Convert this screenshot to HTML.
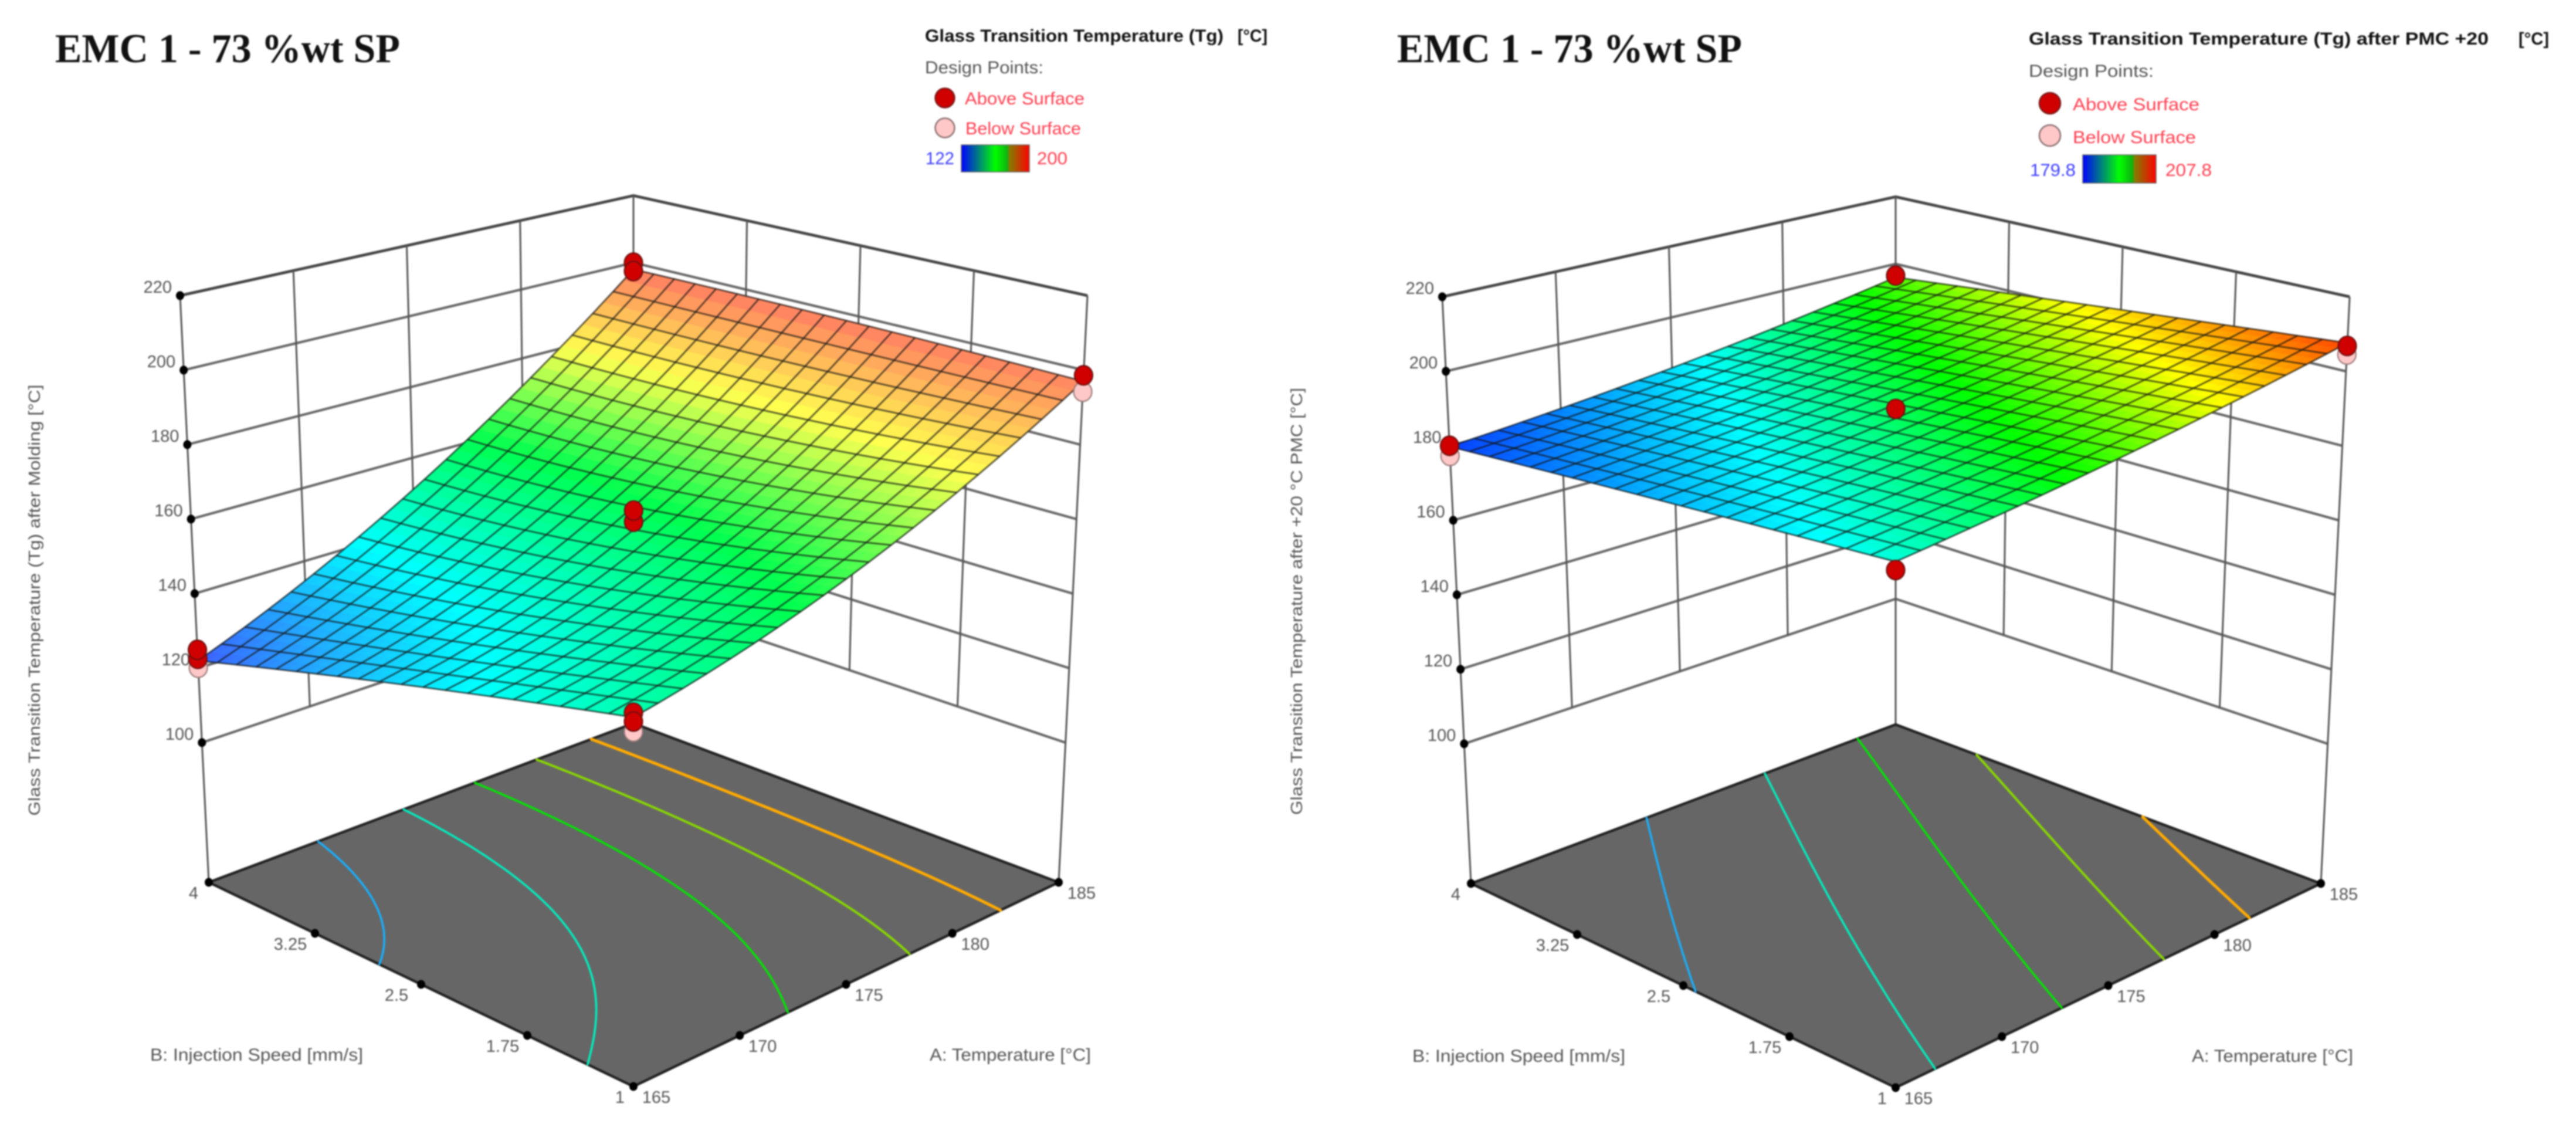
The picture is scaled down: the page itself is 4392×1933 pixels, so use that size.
<!DOCTYPE html>
<html lang="en">
<head>
<meta charset="utf-8">
<title>EMC 1 - 73 %wt SP response surfaces</title>
<style>
html,body{margin:0;padding:0;background:#fff;}
#figure{display:block;width:4392px;height:1933px;filter:blur(1.4px);}
text{font-family:"Liberation Sans",sans-serif;}
.head{font-family:"Liberation Serif",serif;font-weight:bold;font-size:70px;fill:#111;}
.lt{font-size:30px;font-weight:bold;fill:#111;}
.ld{font-size:30px;fill:#555;}
.lr{font-size:30px;fill:#ff3f50;}
.lb{font-size:30px;fill:#3f3fff;}
</style>
</head>
<body>
<svg id="figure" xmlns="http://www.w3.org/2000/svg" width="4392" height="1933" viewBox="0 0 4392 1933">
<defs>
<linearGradient id="scaleGrad" x1="0" x2="1" y1="0" y2="0">
<stop offset="0" stop-color="#0000ff"/><stop offset="0.5" stop-color="#00ff00"/><stop offset="0.68" stop-color="#10b010"/><stop offset="0.7" stop-color="#808000"/><stop offset="1" stop-color="#ff0000"/>
</linearGradient>
</defs>
<rect width="4392" height="1933" fill="#fff"/>

<text class="head" x="94" y="106" textLength="588" lengthAdjust="spacingAndGlyphs">EMC 1 - 73 %wt SP</text>
<g>
<text class="lt" x="1577" y="71" textLength="509" lengthAdjust="spacingAndGlyphs">Glass Transition Temperature (Tg)</text>
<text class="lt" x="2110" y="71" textLength="51" lengthAdjust="spacingAndGlyphs">[°C]</text>
<text class="ld" x="1577" y="125" textLength="202" lengthAdjust="spacingAndGlyphs">Design Points:</text>
<circle cx="1611" cy="167" r="16.5" fill="#d00000" stroke="#7a1a1a" stroke-width="2.5"/>
<text class="lr" x="1645" y="178" textLength="204" lengthAdjust="spacingAndGlyphs">Above Surface</text>
<circle cx="1611" cy="218" r="16.5" fill="#ffc8c8" stroke="#8a7070" stroke-width="2.5"/>
<text class="lr" x="1646" y="229" textLength="197" lengthAdjust="spacingAndGlyphs">Below Surface</text>
<text class="lb" x="1578" y="280" textLength="49" lengthAdjust="spacingAndGlyphs">122</text>
<rect x="1639" y="247" width="116" height="46" fill="url(#scaleGrad)" stroke="#666" stroke-width="1.5"/>
<text class="lr" x="1768" y="280" textLength="52" lengthAdjust="spacingAndGlyphs">200</text>
</g>

<text class="head" x="2382" y="106" textLength="588" lengthAdjust="spacingAndGlyphs">EMC 1 - 73 %wt SP</text>
<g>
<text class="lt" x="3459" y="76" textLength="784" lengthAdjust="spacingAndGlyphs">Glass Transition Temperature (Tg) after PMC +20</text>
<text class="lt" x="4294" y="76" textLength="52" lengthAdjust="spacingAndGlyphs">[°C]</text>
<text class="ld" x="3459" y="131" textLength="213" lengthAdjust="spacingAndGlyphs">Design Points:</text>
<circle cx="3495" cy="176" r="18" fill="#d00000" stroke="#7a1a1a" stroke-width="2.5"/>
<text class="lr" x="3534" y="188" textLength="216" lengthAdjust="spacingAndGlyphs">Above Surface</text>
<circle cx="3495" cy="231" r="18" fill="#ffc8c8" stroke="#8a7070" stroke-width="2.5"/>
<text class="lr" x="3534" y="244" textLength="210" lengthAdjust="spacingAndGlyphs">Below Surface</text>
<text class="lb" x="3461" y="300" textLength="78" lengthAdjust="spacingAndGlyphs">179.8</text>
<rect x="3551" y="264" width="125" height="48" fill="url(#scaleGrad)" stroke="#666" stroke-width="1.5"/>
<text class="lr" x="3692" y="300" textLength="79" lengthAdjust="spacingAndGlyphs">207.8</text>
</g>

<g id="panelLeft"></g>
<g id="panelRight" transform="translate(2152,2)"></g>
</svg>

<script>
// ---- axis data ----
const tempTicks = [165, 170, 175, 180, 185];
const tempTickLabels = ['165', '170', '175', '180', '185'];
const speedTicks = [1, 1.75, 2.5, 3.25, 4];
const speedTickLabels = ['1', '1.75', '2.5', '3.25', '4'];
const tgTicks = [100, 120, 140, 160, 180, 200, 220];
const tgTickLabels = ['100', '120', '140', '160', '180', '200', '220'];

// ---- surface values read at T = 165/175/185 (columns), speed = 1/2.5/4 (rows) ----
const moldingSpeed1 = [150.5, 168, 197];
const moldingSpeed25 = [137, 157.5, 198];
const moldingSpeed4 = [122, 153, 198];
const pmcSpeed1 = [187.9, 196.4, 207.6];
const pmcSpeed25 = [184, 191.5, 201.9];
const pmcSpeed4 = [179.8, 186.2, 196];

// ---- contour levels ----
const moldingContours = [135, 148, 161, 174, 187];
const pmcContours = [184.47, 189.13, 193.8, 198.47, 203.13];

// ---- design points ----
const moldingPointTemp = [185, 185, 185, 185, 175, 175, 165, 165, 165, 165, 165, 165];
const moldingPointSpeed = [4, 4, 1, 1, 2.5, 2.5, 4, 4, 4, 1, 1, 1];
const moldingPointTg = [200, 197.5, 194.2, 198.6, 159.6, 162.6, 120.1, 122.5, 124.9, 147.1, 151.6, 149.5];
const moldingPointAbove = [1, 1, 0, 1, 1, 1, 0, 1, 1, 0, 1, 1];
const pmcPointTemp = [185, 185, 185, 175, 165, 165, 165];
const pmcPointSpeed = [4, 1, 1, 2.5, 4, 4, 1];
const pmcPointTg = [196.5, 204.5, 206.8, 190.2, 177.3, 180, 185.9];
const pmcPointAbove = [1, 0, 1, 1, 0, 1, 1];

const SVGNS = 'http://www.w3.org/2000/svg';
const GRID = 20;
const FLOOR_Z = 62.5;

// ---- axis functions ----
function aOf(t) { return (t - 165) / 20; }
function bOf(v) { return (v - 1) / 3; }
function floorPt(a, b) {
  const w00 = (1 - a) * (1 - b), w10 = a * (1 - b) * 1.126, w01 = (1 - a) * b * 1.126, w11 = a * b * 1.252;
  const sum = w00 + w10 + w01 + w11;
  return [(w00 * 1080 + w10 * 1805 + w01 * 356 + w11 * 1080) / sum,
          (w00 * 1852 + w10 * 1504 + w01 * 1504 + w11 * 1233) / sum];
}
function project(a, b, z) {
  const f = floorPt(a, b);
  const s = 7.15 / (1 + 0.126 * (a + b));
  return [1080 + (f[0] - 1080) * (1 + (z - FLOOR_Z) * 0.00043), f[1] - (z - FLOOR_Z) * s];
}
function lerpPt(p, q, t) { return [p[0] + (q[0] - p[0]) * t, p[1] + (q[1] - p[1]) * t]; }
function lag(t) { return [2 * (t - 0.5) * (t - 1), -4 * t * (t - 1), 2 * t * (t - 0.5)]; }
function surfaceValue(rows, a, b) {
  const la = lag(a), lb = lag(b);
  let z = 0;
  for (let j = 0; j < 3; j++) for (let i = 0; i < 3; i++) z += lb[j] * la[i] * rows[j][i];
  return z;
}
function colorOf(stops, t) {
  t = Math.max(0, Math.min(1, t)) * (stops.length - 1);
  const i = Math.min(stops.length - 2, Math.floor(t)), f = t - i;
  const c = [0, 1, 2].map(k => Math.round(stops[i][k] + (stops[i + 1][k] - stops[i][k]) * f));
  return 'rgb(' + c.join(',') + ')';
}
function mk(parent, tag, attrs) {
  const el = document.createElementNS(SVGNS, tag);
  for (const k in attrs) el.setAttribute(k, attrs[k]);
  parent.appendChild(el);
  return el;
}
function ptStr(p) { return p[0].toFixed(1) + ',' + p[1].toFixed(1); }

function drawPanel(root, cfg) {
  // walls
  const walls = mk(root, 'g', {});
  
  
  tgTicks.forEach(function (z) {
    const top = z === 220;
    const pl = project(0, 1, z), pb = project(1, 1, z), pr = project(1, 0, z);
    const line = mk(walls, 'polyline', { points: ptStr(pl) + ' ' + ptStr(pb) + ' ' + ptStr(pr), fill: 'none', stroke: top ? '#444' : '#686868', 'stroke-width': top ? 4.8 : 4.2 });
    
    
  });
  [0.25, 0.5, 0.75].forEach(function (t) {
    const l = mk(walls, 'line', {});
    const a = lerpPt(project(0, 1, 220), project(1, 1, 220), t), b = lerpPt(project(0, 1, 100), project(1, 1, 100), t);
    l.setAttribute('x1', a[0]); l.setAttribute('y1', a[1]); l.setAttribute('x2', b[0]); l.setAttribute('y2', b[1]);
    l.setAttribute('stroke', '#555'); l.setAttribute('stroke-width', 3);
    
    
    const r = mk(walls, 'line', {});
    const c = lerpPt(project(1, 0, 220), project(1, 1, 220), t), d = lerpPt(project(1, 0, 100), project(1, 1, 100), t);
    r.setAttribute('x1', c[0]); r.setAttribute('y1', c[1]); r.setAttribute('x2', d[0]); r.setAttribute('y2', d[1]);
    r.setAttribute('stroke', '#555'); r.setAttribute('stroke-width', 3);
    
    
  });
  [[0, 1], [1, 1], [1, 0]].forEach(function (c) {
    const a = project(c[0], c[1], 220), b = project(c[0], c[1], FLOOR_Z);
    const l = mk(walls, 'line', { x1: a[0], y1: a[1], x2: b[0], y2: b[1], stroke: '#555', 'stroke-width': 3 });
    
    
  });

  // floor
  const floor = mk(root, 'polygon', { points: [floorPt(0, 0), floorPt(1, 0), floorPt(1, 1), floorPt(0, 1)].map(ptStr).join(' '), fill: '#666666', stroke: '#222', 'stroke-width': 4.5, 'stroke-linejoin': 'round' });
  
  

  // contours from the surface values
  const contourColors = ['#18b0ff', '#00f0c0', '#00e800', '#88d800', '#ffaa00'];
  const contourWidths = [3.5, 3.5, 3.5, 4, 5];
  const N = 60;
  cfg.levels.forEach(function (level, li) {
    let d = '';
    const f = (i, j) => surfaceValue(cfg.rows, i / N, j / N);
    for (let j = 0; j < N; j++) for (let i = 0; i < N; i++) {
      const corners = [[i, j, f(i, j)], [i + 1, j, f(i + 1, j)], [i + 1, j + 1, f(i + 1, j + 1)], [i, j + 1, f(i, j + 1)]];
      const hits = [];
      for (let k = 0; k < 4; k++) {
        const p = corners[k], q = corners[(k + 1) % 4];
        if ((p[2] < level) !== (q[2] < level)) {
          const t = (level - p[2]) / (q[2] - p[2]);
          hits.push(floorPt((p[0] + (q[0] - p[0]) * t) / N, (p[1] + (q[1] - p[1]) * t) / N));
        }
      }
      if (hits.length >= 2) d += 'M' + ptStr(hits[0]) + 'L' + ptStr(hits[1]);
    }
    const path = mk(root, 'path', { d: d, fill: 'none', stroke: contourColors[li], 'stroke-width': contourWidths[li], 'stroke-linecap': 'round' });
    
    
  });

  // ticks and labels
  const axes = mk(root, 'g', { fill: '#555' });
  
  
  function dot(p, name) {
    const c = mk(axes, 'ellipse', { cx: p[0], cy: p[1], rx: 7, ry: 7.5, fill: '#000' });
    
    
  }
  function label(x, y, str, anchor, name) {
    const t = mk(axes, 'text', { x: x, y: y, 'text-anchor': anchor, 'font-size': 29 });
    t.textContent = str;
    
    
  }
  tgTicks.forEach(function (z, i) {
    const p = project(0, 1, z);
    dot(p, 'tg-tick-' + z);
    label(p[0] - 14, p[1] - 5, tgTickLabels[i], 'end', 'tg-tick-label-' + z);
  });
  tempTicks.forEach(function (v, i) {
    const p = lerpPt(floorPt(0, 0), floorPt(1, 0), aOf(v));
    dot(p, 'temperature-tick-' + v);
    label(p[0] + 39, p[1] + 28, tempTickLabels[i], 'middle', 'temperature-tick-label-' + v);
  });
  speedTicks.forEach(function (v, i) {
    const p = lerpPt(floorPt(0, 0), floorPt(0, 1), bOf(v));
    if (v !== 1) dot(p, 'speed-tick-' + v);
    const dx = v === 1 ? -23 : (v === 4 ? -26 : -42);
    label(p[0] + dx, p[1] + 28, speedTickLabels[i], 'middle', 'speed-tick-label-' + v);
  });

  // axis titles
  const bt = mk(root, 'text', { x: 256, y: 1808, 'font-size': 30, fill: '#555', textLength: 363, lengthAdjust: 'spacingAndGlyphs' });
  bt.textContent = 'B: Injection Speed [mm/s]';
  
  
  const at = mk(root, 'text', { x: 1585, y: 1808, 'font-size': 30, fill: '#555', textLength: 275, lengthAdjust: 'spacingAndGlyphs' });
  at.textContent = 'A: Temperature [°C]';
  
  
  const yt = mk(root, 'text', { transform: 'translate(' + cfg.yTitleX + ',' + cfg.yTitleY + ') rotate(-90)', 'font-size': 28, fill: '#555', 'text-anchor': 'middle', textLength: cfg.yTitleLen, lengthAdjust: 'spacingAndGlyphs' });
  yt.textContent = cfg.yTitle;
  
  

  // surface cells (2x2 sub-quads per mesh cell, drawn back to front)
  const surf = mk(root, 'g', {});
  
  
  const SUB = GRID * 2;
  for (let j = SUB - 1; j >= 0; j--) for (let i = SUB - 1; i >= 0; i--) {
    const a0 = i / SUB, a1 = (i + 1) / SUB, b0 = j / SUB, b1 = (j + 1) / SUB;
    const zc = surfaceValue(cfg.rows, (a0 + a1) / 2, (b0 + b1) / 2);
    const col = colorOf(cfg.stops, (zc - cfg.min) / (cfg.max - cfg.min));
    const pts = [[a0, b0], [a1, b0], [a1, b1], [a0, b1]].map(q => ptStr(project(q[0], q[1], surfaceValue(cfg.rows, q[0], q[1])))).join(' ');
    const cell = mk(surf, 'polygon', { points: pts, fill: col, stroke: col, 'stroke-width': 1 });
    
    
  }

  // mesh lines
  const mesh = mk(root, 'g', { fill: 'none', stroke: '#141414', 'stroke-opacity': 0.68, 'stroke-width': 2.8 });
  
  
  for (let k = 0; k <= GRID; k++) {
    const p1 = [], p2 = [];
    for (let m = 0; m <= GRID; m++) {
      const u = k / GRID, v = m / GRID;
      p1.push(ptStr(project(u, v, surfaceValue(cfg.rows, u, v))));
      p2.push(ptStr(project(v, u, surfaceValue(cfg.rows, v, u))));
    }
    const l1 = mk(mesh, 'polyline', { points: p1.join(' ') });
    
    
    const l2 = mk(mesh, 'polyline', { points: p2.join(' ') });
    
    
  }

  // design points
  cfg.ptTemp.forEach(function (t, i) {
    const p = project(aOf(t), bOf(cfg.ptSpeed[i]), cfg.ptTg[i]);
    const above = cfg.ptAbove[i];
    const c = mk(root, 'ellipse', { cx: p[0], cy: p[1], rx: 15.5, ry: 16.5, fill: above ? '#d00000' : '#ffc8c8', stroke: above ? '#6a1010' : '#9a7a7a', 'stroke-width': 2.2 });
    
    
  });
}

drawPanel(document.getElementById('panelLeft'), {
  rows: [moldingSpeed1, moldingSpeed25, moldingSpeed4],
  levels: moldingContours,
  min: 122, max: 200,
  stops: [[63, 95, 255], [0, 255, 255], [0, 255, 80], [255, 255, 80], [255, 110, 100]],
  ptTemp: moldingPointTemp, ptSpeed: moldingPointSpeed, ptTg: moldingPointTg, ptAbove: moldingPointAbove,
  yTitle: 'Glass Transition Temperature (Tg) after Molding [°C]',
  yTitleX: 68, yTitleY: 1023, yTitleLen: 735
});
drawPanel(document.getElementById('panelRight'), {
  rows: [pmcSpeed1, pmcSpeed25, pmcSpeed4],
  levels: pmcContours,
  min: 179.8, max: 207.8,
  stops: [[8, 64, 255], [0, 255, 255], [0, 255, 0], [255, 255, 0], [255, 64, 0]],
  ptTemp: pmcPointTemp, ptSpeed: pmcPointSpeed, ptTg: pmcPointTg, ptAbove: pmcPointAbove,
  yTitle: 'Glass Transition Temperature after +20 °C PMC [°C]',
  yTitleX: 68, yTitleY: 1023, yTitleLen: 728
});
</script>
</body>
</html>
